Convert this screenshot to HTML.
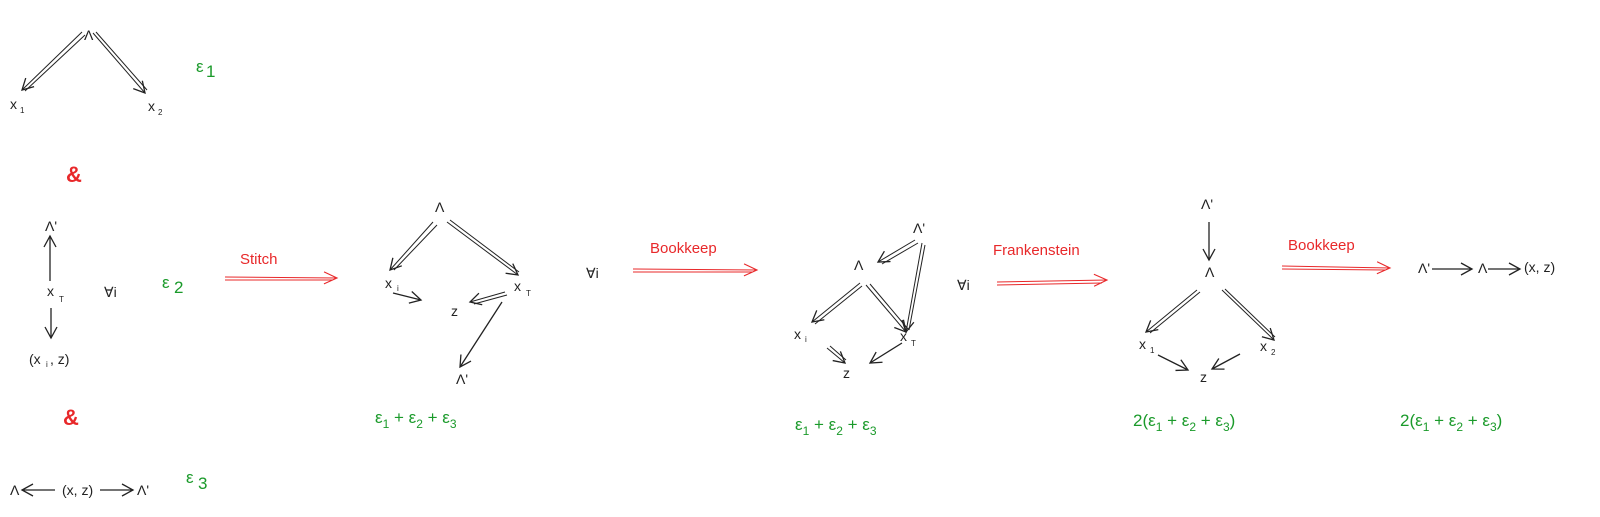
<!DOCTYPE html>
<html><head><meta charset="utf-8"><style>
html,body{margin:0;padding:0;background:#fff;}
svg{display:block;}
text{font-family:"Liberation Sans",sans-serif;}
.k{fill:#222;font-size:14px;}
.g{fill:#1a9a2a;font-size:17px;}
.r{fill:#e8282a;font-size:15px;}
.s{fill:#222;font-size:8px;}
</style></head><body>
<svg width="1600" height="517" viewBox="0 0 1600 517" xmlns="http://www.w3.org/2000/svg">
<defs>
<marker id="a" markerWidth="14" markerHeight="14" refX="12" refY="7" orient="auto" markerUnits="userSpaceOnUse">
<path d="M1,1 L12,7 L1,13" fill="none" stroke="#222" stroke-width="1.3"/></marker>
<marker id="ar" markerWidth="16" markerHeight="14" refX="14" refY="7" orient="auto" markerUnits="userSpaceOnUse">
<path d="M1,1 L14,7 L1,13" fill="none" stroke="#e8282a" stroke-width="1.1"/></marker>
</defs>
<g stroke="#222" stroke-width="1" fill="none">
<!-- diagram 1 -->
<line x1="82" y1="32" x2="22" y2="90" marker-end="url(#a)"/><line x1="85" y1="35" x2="25" y2="91"/>
<line x1="93" y1="33" x2="145" y2="93" marker-end="url(#a)"/><line x1="96" y1="32" x2="147" y2="90"/>
<line x1="50" y1="281" x2="50" y2="236" marker-end="url(#a)" stroke-width="1.3"/>
<line x1="51" y1="308" x2="51" y2="338" marker-end="url(#a)" stroke-width="1.3"/>
<line x1="55" y1="490" x2="22" y2="490" marker-end="url(#a)" stroke-width="1.3"/>
<line x1="100" y1="490" x2="133" y2="490" marker-end="url(#a)" stroke-width="1.3"/>
<!-- diagram 2 -->
<line x1="433" y1="222" x2="390" y2="270" marker-end="url(#a)"/><line x1="437" y1="225" x2="394" y2="270"/>
<line x1="447" y1="222" x2="518" y2="275" marker-end="url(#a)"/><line x1="450" y1="220" x2="519" y2="272"/>
<line x1="393" y1="293" x2="421" y2="300" marker-end="url(#a)" stroke-width="1.3"/>
<line x1="505" y1="292" x2="470" y2="302" marker-end="url(#a)"/><line x1="507" y1="295" x2="474" y2="304"/>
<line x1="502" y1="302" x2="460" y2="367" marker-end="url(#a)" stroke-width="1.3"/>
<!-- diagram 3 -->
<line x1="915" y1="240" x2="878" y2="262" marker-end="url(#a)"/><line x1="918" y1="243" x2="882" y2="264"/>
<line x1="922" y1="243" x2="906" y2="332" marker-end="url(#a)"/><line x1="925" y1="245" x2="909" y2="330"/>
<line x1="860" y1="283" x2="812" y2="322" marker-end="url(#a)"/><line x1="862" y1="286" x2="815" y2="324"/>
<line x1="866" y1="285" x2="906" y2="332" marker-end="url(#a)"/><line x1="870" y1="284" x2="908" y2="329"/>
<line x1="827" y1="348" x2="845" y2="363" marker-end="url(#a)"/><line x1="830" y1="346" x2="846" y2="360"/>
<line x1="902" y1="343" x2="870" y2="363" marker-end="url(#a)" stroke-width="1.3"/>
<!-- diagram 4 -->
<line x1="1209" y1="222" x2="1209" y2="260" marker-end="url(#a)" stroke-width="1.3"/>
<line x1="1197" y1="290" x2="1146" y2="332" marker-end="url(#a)"/><line x1="1200" y1="292" x2="1150" y2="333"/>
<line x1="1222" y1="290" x2="1274" y2="340" marker-end="url(#a)"/><line x1="1225" y1="289" x2="1275" y2="337"/>
<line x1="1158" y1="355" x2="1188" y2="370" marker-end="url(#a)" stroke-width="1.3"/>
<line x1="1240" y1="354" x2="1212" y2="369" marker-end="url(#a)" stroke-width="1.3"/>
<!-- small -->
<line x1="1432" y1="269" x2="1472" y2="269" marker-end="url(#a)" stroke-width="1.3"/>
<line x1="1488" y1="269" x2="1520" y2="269" marker-end="url(#a)" stroke-width="1.3"/>
</g>
<g stroke="#e8282a" stroke-width="1" fill="none">
<line x1="225" y1="277" x2="337" y2="278" marker-end="url(#ar)"/><line x1="225" y1="280" x2="333" y2="280"/>
<line x1="633" y1="269" x2="757" y2="270" marker-end="url(#ar)"/><line x1="633" y1="272" x2="752" y2="272"/>
<line x1="997" y1="282" x2="1107" y2="280" marker-end="url(#ar)"/><line x1="997" y1="285" x2="1102" y2="283"/>
<line x1="1282" y1="266" x2="1390" y2="268" marker-end="url(#ar)"/><line x1="1282" y1="269" x2="1385" y2="270"/>
</g>
<!-- text -->
<text class="k" x="84" y="40">Λ</text>
<text class="k" x="10" y="109">x</text><text class="s" x="20" y="113">1</text>
<text class="k" x="148" y="111">x</text><text class="s" x="158" y="115">2</text>
<text class="g" x="196" y="72">ε</text><text class="g" x="206" y="77" font-size="12">1</text>
<text x="66" y="182" fill="#e8282a" font-size="22" font-weight="bold" font-family="Liberation Serif,serif">&amp;</text>
<text class="k" x="45" y="231">Λ'</text>
<text class="k" x="47" y="296">x</text><text class="s" x="59" y="302">T</text>
<text class="k" x="104" y="297">∀i</text>
<text class="g" x="162" y="288">ε</text><text class="g" x="174" y="293" font-size="12">2</text>
<text class="k" x="29" y="364">(x</text><text class="s" x="46" y="367">i</text><text class="k" x="50" y="364">, z)</text>
<text x="63" y="425" fill="#e8282a" font-size="22" font-weight="bold" font-family="Liberation Serif,serif">&amp;</text>
<text class="g" x="186" y="483">ε</text><text class="g" x="198" y="489" font-size="12">3</text>
<text class="k" x="10" y="495" font-size="11">Λ</text>
<text class="k" x="62" y="495" font-size="11">(x, z)</text>
<text class="k" x="137" y="495" font-size="11">Λ'</text>
<text class="r" x="240" y="264">Stitch</text>
<text class="k" x="435" y="212">Λ</text>
<text class="k" x="385" y="288">x</text><text class="s" x="397" y="291">i</text>
<text class="k" x="451" y="316">z</text>
<text class="k" x="514" y="291">x</text><text class="s" x="526" y="296">T</text>
<text class="k" x="456" y="384">Λ'</text>
<text class="g" x="375" y="423">ε<tspan font-size="12" dy="5">1</tspan><tspan dy="-5"> + ε</tspan><tspan font-size="12" dy="5">2</tspan><tspan dy="-5"> + ε</tspan><tspan font-size="12" dy="5">3</tspan></text>
<text class="k" x="586" y="278">∀i</text>
<text class="r" x="650" y="253">Bookkeep</text>
<text class="k" x="913" y="233">Λ'</text>
<text class="k" x="854" y="270">Λ</text>
<text class="k" x="794" y="339">x</text><text class="s" x="805" y="342">i</text>
<text class="k" x="843" y="378">z</text>
<text class="k" x="900" y="341">x</text><text class="s" x="911" y="346">T</text>
<text class="g" x="795" y="430">ε<tspan font-size="12" dy="5">1</tspan><tspan dy="-5"> + ε</tspan><tspan font-size="12" dy="5">2</tspan><tspan dy="-5"> + ε</tspan><tspan font-size="12" dy="5">3</tspan></text>
<text class="k" x="957" y="290">∀i</text>
<text class="r" x="993" y="255">Frankenstein</text>
<text class="k" x="1201" y="209">Λ'</text>
<text class="k" x="1205" y="277">Λ</text>
<text class="k" x="1139" y="349">x</text><text class="s" x="1150" y="353">1</text>
<text class="k" x="1200" y="382">z</text>
<text class="k" x="1260" y="351">x</text><text class="s" x="1271" y="355">2</text>
<text class="g" x="1133" y="426">2(ε<tspan font-size="12" dy="5">1</tspan><tspan dy="-5"> + ε</tspan><tspan font-size="12" dy="5">2</tspan><tspan dy="-5"> + ε</tspan><tspan font-size="12" dy="5">3</tspan><tspan dy="-5">)</tspan></text>
<text class="r" x="1288" y="250">Bookkeep</text>
<text class="k" x="1418" y="273" font-size="10">Λ'</text>
<text class="k" x="1478" y="273" font-size="10">Λ</text>
<text class="k" x="1524" y="272" font-size="10">(x, z)</text>
<text class="g" x="1400" y="426">2(ε<tspan font-size="12" dy="5">1</tspan><tspan dy="-5"> + ε</tspan><tspan font-size="12" dy="5">2</tspan><tspan dy="-5"> + ε</tspan><tspan font-size="12" dy="5">3</tspan><tspan dy="-5">)</tspan></text>
</svg>
</body></html>
